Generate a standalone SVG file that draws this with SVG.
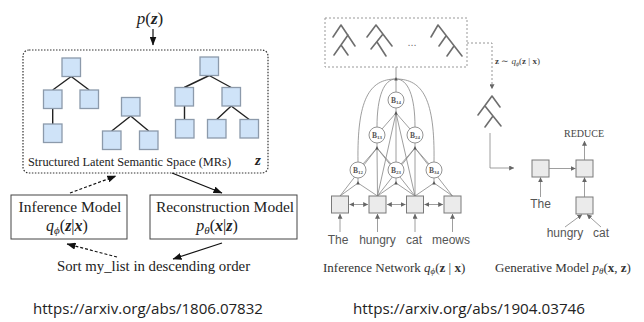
<svg xmlns="http://www.w3.org/2000/svg" width="644" height="322" viewBox="0 0 644 322">
<defs>
  <marker id="ah" markerWidth="9" markerHeight="7" refX="8.5" refY="3.5" orient="auto" markerUnits="userSpaceOnUse">
    <path d="M0,0 L9,3.5 L0,7 z" fill="#111"/>
  </marker>
  <marker id="ag" markerWidth="5" markerHeight="5" refX="4.8" refY="2.5" orient="auto-start-reverse" markerUnits="userSpaceOnUse">
    <path d="M0,0 L5,2.5 L0,5 z" fill="#666"/>
  </marker>
</defs>
<style>
  .serif{font-family:"Liberation Serif","Times New Roman",serif}
  .sans{font-family:"Liberation Sans",Arial,sans-serif}
  .url{font-family:"Open Sans","Liberation Sans",sans-serif;font-size:14.5px;fill:#222}
  .sq{fill:#cfe3f8;stroke:#8c9aab;stroke-width:1.3}
  .edge{stroke:#222;stroke-width:1.4;fill:none}
  .lat{fill:none;stroke:#333;stroke-width:1.2;stroke-dasharray:1.5 1.5}
  .box{fill:#fff;stroke:#444;stroke-width:1}
  .conn{stroke:#111;stroke-width:1.2;fill:none}
  .dash{stroke-dasharray:3 2}
  .g{stroke:#858585;stroke-width:0.8;fill:none}
  .mini{stroke:#6e6e6e;stroke-width:1.6;fill:none;stroke-linecap:round}
  .cell{fill:#ebebeb;stroke:#7a7a7a;stroke-width:1}
  .node{fill:#fff;stroke:#888;stroke-width:0.9}
  .bl{font-family:"Liberation Serif",serif;font-weight:bold;font-size:7.5px;fill:#555}
  .word{font-family:"Liberation Sans",Arial,sans-serif;font-size:12px;fill:#555}
  .it{font-style:italic}
  .bi{font-style:italic;font-weight:bold}
  .b{font-weight:bold}
</style>
<rect width="644" height="322" fill="#fff"/>

<!-- ===== Left: structured latent space model ===== -->
<g id="prior">
  <text class="serif" x="150" y="24" font-size="17" text-anchor="middle" fill="#222"><tspan class="it">p</tspan>(<tspan class="bi">z</tspan>)</text>
</g>

<g id="latent-space">
  <rect class="lat" x="23" y="50" width="245" height="123" rx="6"/>
  <!-- tree 1 -->
  <g id="tree1">
    <path class="edge" d="M71.2,76.5 L52.7,90 M71.2,76.5 L89.2,90 M52.7,108.5 L52.7,124"/>
    <rect class="sq" x="62" y="58" width="18.5" height="18.5"/>
    <rect class="sq" x="43.5" y="90" width="18.5" height="18.5"/>
    <rect class="sq" x="80" y="90" width="18.5" height="18.5"/>
    <rect class="sq" x="43.5" y="124" width="18.5" height="18.5"/>
  </g>
  <!-- tree 2 -->
  <g id="tree2">
    <path class="edge" d="M130.7,116 L111.7,131 M130.7,116 L148.7,131"/>
    <rect class="sq" x="121.5" y="97.5" width="18.5" height="18.5"/>
    <rect class="sq" x="102.5" y="131" width="18.5" height="18.5"/>
    <rect class="sq" x="139.5" y="131" width="18.5" height="18.5"/>
  </g>
  <!-- tree 3 -->
  <g id="tree3">
    <path class="edge" d="M209.2,75.5 L184.2,87.5 M209.2,75.5 L231.2,87.5 M184.5,106 L184.5,119.5 M231.2,106 L216.7,119.5 M231.2,106 L249.2,119.5"/>
    <rect class="sq" x="200" y="57" width="18.5" height="18.5"/>
    <rect class="sq" x="175" y="87.5" width="18.5" height="18.5"/>
    <rect class="sq" x="222" y="87.5" width="18.5" height="18.5"/>
    <rect class="sq" x="175.5" y="119.5" width="18.5" height="18.5"/>
    <rect class="sq" x="207.5" y="119.5" width="18.5" height="18.5"/>
    <rect class="sq" x="240" y="119.5" width="18.5" height="18.5"/>
  </g>
  <text class="serif" x="28" y="166" font-size="12.5" textLength="203" lengthAdjust="spacingAndGlyphs" fill="#222">Structured Latent Semantic Space (MRs)</text>
  <text class="serif bi" x="255" y="165" font-size="15" fill="#222">z</text>
</g>

<g id="inference-model">
  <rect class="box" x="11" y="195" width="116" height="44"/>
  <text class="serif" x="70" y="212" font-size="15.5" text-anchor="middle" fill="#222">Inference Model</text>
  <text class="serif" x="67" y="231" font-size="16" text-anchor="middle" fill="#222"><tspan class="it">q</tspan><tspan class="it" font-size="11" dy="3">ϕ</tspan><tspan dy="-3">(</tspan><tspan class="bi">z</tspan>|<tspan class="bi">x</tspan>)</text>
</g>

<g id="reconstruction-model">
  <rect class="box" x="150" y="195" width="147" height="44"/>
  <text class="serif" x="225" y="212" font-size="15.5" text-anchor="middle" fill="#222">Reconstruction Model</text>
  <text class="serif" x="217" y="231" font-size="16" text-anchor="middle" fill="#222"><tspan class="it">p</tspan><tspan class="it" font-size="11" dy="3">θ</tspan><tspan dy="-3">(</tspan><tspan class="bi">x</tspan>|<tspan class="bi">z</tspan>)</text>
</g>

<g id="utterance">
  <text class="serif" x="153.5" y="271" font-size="14.8" text-anchor="middle" fill="#222">Sort my_list in descending order</text>
</g>

<g id="left-connectors">
  <line class="conn" x1="153" y1="29" x2="153" y2="45" marker-end="url(#ah)"/>
  <line class="conn dash" x1="70" y1="193" x2="116" y2="176" marker-end="url(#ah)"/>
  <line class="conn" x1="172" y1="173" x2="222" y2="193" marker-end="url(#ah)"/>
  <line class="conn" x1="222" y1="243" x2="173" y2="259" marker-end="url(#ah)"/>
  <line class="conn dash" x1="117" y1="257" x2="67" y2="244" marker-end="url(#ah)"/>
</g>

<text class="url" x="33" y="314" textLength="230" lengthAdjust="spacingAndGlyphs">https://arxiv.org/abs/1806.07832</text>

<!-- ===== Right: inference network and generative model ===== -->
<g id="tree-samples">
  <rect x="325" y="18" width="142" height="49" fill="none" stroke="#999" stroke-width="1" stroke-dasharray="2 2"/>
  <path class="mini" d="M341,25 L333,37 M341,25 L355,46 M348,35 L334,55 M341,45 L348,55"/>
  <path class="mini" d="M376,25 L367,37 M376,25 L392,46 M383,34 L371,49 M377,42 L386,56"/>
  <text class="sans" x="412" y="46" font-size="11" text-anchor="middle" fill="#777">...</text>
  <path class="mini" d="M438,25 L431,37 M438,25 L462,56 M446,36 L439,46 M454,46 L447,56"/>
</g>

<g id="chart-connectors">
  <line class="g" x1="396" y1="67" x2="396" y2="79"/>
  <!-- arcs from the root to the chart cells -->
  <path class="g" d="M396,79 C369,79 357,100 358,162"/>
  <path class="g" d="M396,79 C384,79 377,96 377,127"/>
  <path class="g" d="M396,79 C408,79 415,96 415,127"/>
  <path class="g" d="M396,79 C423,79 435,100 434,162"/>
  <line class="g" x1="396" y1="79" x2="396" y2="92"/>
  <!-- B14 inputs -->
  <path class="g" d="M396,113 L382,129 M396,113 L410,129 M396,113 L396,162 M396,113 L377.5,196 M396,113 L415,196"/>
  <line class="g" x1="396" y1="113" x2="396" y2="108"/>
  <!-- B13 inputs -->
  <path class="g" d="M377,148 L363,164 M377,148 L391,164 M377,148 L340,196 M377,148 L377.5,196 M377,148 L415,196"/>
  <line class="g" x1="377" y1="148" x2="377" y2="143"/>
  <!-- B24 inputs -->
  <path class="g" d="M415,148 L401,164 M415,148 L429,164 M415,148 L377.5,196 M415,148 L415,196 M415,148 L452.5,196"/>
  <line class="g" x1="415" y1="148" x2="415" y2="143"/>
  <!-- span-2 cell inputs -->
  <path class="g" d="M358,183 L340,196 M358,183 L377.5,196 M358,183 L358,178"/>
  <path class="g" d="M396,183 L377.5,196 M396,183 L415,196 M396,183 L396,178"/>
  <path class="g" d="M434,183 L415,196 M434,183 L452.5,196 M434,183 L434,178"/>
  <!-- word inputs -->
  <line class="g" x1="340" y1="232" x2="340" y2="214" marker-end="url(#ag)"/>
  <line class="g" x1="377.5" y1="232" x2="377.5" y2="214" marker-end="url(#ag)"/>
  <line class="g" x1="415" y1="232" x2="415" y2="214" marker-end="url(#ag)"/>
  <line class="g" x1="452.5" y1="232" x2="452.5" y2="214" marker-end="url(#ag)"/>
  <!-- neighbour links -->
  <line class="g" x1="349.5" y1="204.5" x2="368" y2="204.5" marker-start="url(#ag)" marker-end="url(#ag)"/>
  <line class="g" x1="387" y1="204.5" x2="405.5" y2="204.5" marker-start="url(#ag)" marker-end="url(#ag)"/>
  <line class="g" x1="424.5" y1="204.5" x2="443" y2="204.5" marker-start="url(#ag)" marker-end="url(#ag)"/>
</g>

<g id="chart-cells">
  <g id="B14"><circle class="node" cx="396" cy="100" r="8"/><text class="bl" x="396" y="102.5" text-anchor="middle">B<tspan font-size="5" dy="1">14</tspan></text></g>
  <g id="B13"><circle class="node" cx="377" cy="135" r="8"/><text class="bl" x="377" y="137.5" text-anchor="middle">B<tspan font-size="5" dy="1">13</tspan></text></g>
  <g id="B24"><circle class="node" cx="415" cy="135" r="8"/><text class="bl" x="415" y="137.5" text-anchor="middle">B<tspan font-size="5" dy="1">24</tspan></text></g>
  <g id="B12"><circle class="node" cx="358" cy="170" r="8"/><text class="bl" x="358" y="172.5" text-anchor="middle">B<tspan font-size="5" dy="1">12</tspan></text></g>
  <g id="B23"><circle class="node" cx="396" cy="170" r="8"/><text class="bl" x="396" y="172.5" text-anchor="middle">B<tspan font-size="5" dy="1">23</tspan></text></g>
  <g id="B34"><circle class="node" cx="434" cy="170" r="8"/><text class="bl" x="434" y="172.5" text-anchor="middle">B<tspan font-size="5" dy="1">34</tspan></text></g>
  <!-- junction points -->
  <g fill="#555">
    <path d="M394.3,80.5 L397.7,80.5 L396,77 z"/>
    <path d="M394.3,114.5 L397.7,114.5 L396,111 z"/>
    <path d="M375.3,149.5 L378.7,149.5 L377,146 z"/>
    <path d="M413.3,149.5 L416.7,149.5 L415,146 z"/>
    <path d="M356.3,184.5 L359.7,184.5 L358,181 z"/>
    <path d="M394.3,184.5 L397.7,184.5 L396,181 z"/>
    <path d="M432.3,184.5 L435.7,184.5 L434,181 z"/>
  </g>
</g>

<g id="word-cells">
  <rect class="cell" x="331.5" y="196" width="17" height="17"/>
  <rect class="cell" x="369" y="196" width="17" height="17"/>
  <rect class="cell" x="406.5" y="196" width="17" height="17"/>
  <rect class="cell" x="444" y="196" width="17" height="17"/>
  <text class="word" x="338" y="244" text-anchor="middle">The</text>
  <text class="word" x="377.5" y="244" text-anchor="middle">hungry</text>
  <text class="word" x="414" y="244" text-anchor="middle">cat</text>
  <text class="word" x="451" y="244" text-anchor="middle">meows</text>
</g>

<text class="serif" x="323" y="272" font-size="13" fill="#333">Inference Network <tspan class="it">q</tspan><tspan class="it" font-size="9" dy="2">ϕ</tspan><tspan dy="-2">(</tspan><tspan class="b">z</tspan> | <tspan class="b">x</tspan>)</text>

<g id="sample-link">
  <path d="M467,43 H492 V89" fill="none" stroke="#8a8a8a" stroke-width="0.9" stroke-dasharray="2 2" marker-end="url(#ag)"/>
  <text class="serif" x="495" y="64" font-size="9" fill="#444"><tspan class="b">z</tspan> ∼ <tspan class="it">q</tspan><tspan class="it" font-size="6" dy="1.5">ϕ</tspan><tspan dy="-1.5">(</tspan><tspan class="b">z</tspan> | <tspan class="b">x</tspan>)</text>
</g>

<g id="sampled-tree">
  <path class="mini" d="M492,96 L478,115 M492,96 L500,107 M485,106 L501,126 M493,116 L485,127"/>
</g>

<g id="generative-model">
  <path class="g" d="M490,133 V168 H514" stroke-width="1" marker-end="url(#ag)"/>
  <rect class="cell" x="532" y="160" width="17" height="17"/>
  <rect class="cell" x="576" y="160" width="17" height="17"/>
  <rect class="cell" x="576" y="197" width="17" height="17"/>
  <line class="g" x1="549" y1="168.5" x2="575.5" y2="168.5" marker-end="url(#ag)"/>
  <line class="g" x1="584.5" y1="160" x2="584.5" y2="141" marker-end="url(#ag)"/>
  <line class="g" x1="584.5" y1="197" x2="584.5" y2="177.5" marker-end="url(#ag)"/>
  <line class="g" x1="540.5" y1="197" x2="540.5" y2="177.5" marker-end="url(#ag)"/>
  <line class="g" x1="565" y1="227" x2="582" y2="214.5" marker-end="url(#ag)"/>
  <line class="g" x1="601" y1="227" x2="587" y2="214.5" marker-end="url(#ag)"/>
  <text class="serif" x="584" y="137" font-size="10" text-anchor="middle" fill="#444">REDUCE</text>
  <text class="word" x="540.5" y="208" text-anchor="middle">The</text>
  <text class="word" x="565" y="237" text-anchor="middle">hungry</text>
  <text class="word" x="601" y="237" text-anchor="middle">cat</text>
</g>

<text class="serif" x="495" y="272" font-size="13" fill="#333">Generative Model <tspan class="it">p</tspan><tspan class="it" font-size="9" dy="2">θ</tspan><tspan dy="-2">(</tspan><tspan class="b">x</tspan>, <tspan class="b">z</tspan>)</text>

<text class="url" x="353" y="314" textLength="232" lengthAdjust="spacingAndGlyphs">https://arxiv.org/abs/1904.03746</text>
</svg>
